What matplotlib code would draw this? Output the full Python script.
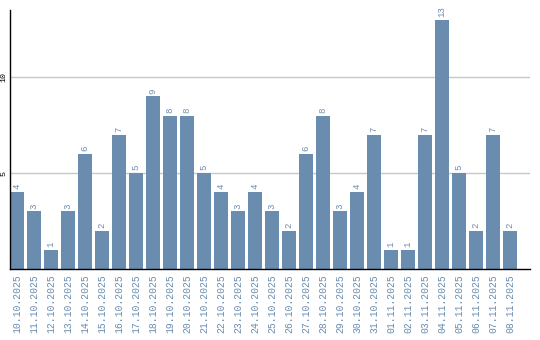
import matplotlib
matplotlib.use("Agg")
import matplotlib.pyplot as plt

# Daten
dates = ["10.10.2025", "11.10.2025", "12.10.2025", "13.10.2025", "14.10.2025",
         "15.10.2025", "16.10.2025", "17.10.2025", "18.10.2025", "19.10.2025",
         "20.10.2025", "21.10.2025", "22.10.2025", "23.10.2025", "24.10.2025",
         "25.10.2025", "26.10.2025", "27.10.2025", "28.10.2025", "29.10.2025",
         "30.10.2025", "31.10.2025", "01.11.2025", "02.11.2025", "03.11.2025",
         "04.11.2025", "05.11.2025", "06.11.2025", "07.11.2025", "08.11.2025"]
counts = [4, 3, 1, 3, 6, 2, 7, 5, 9, 8, 8, 5, 4, 3, 4, 3, 2, 6, 8, 3,
          4, 7, 1, 1, 7, 13, 5, 2, 7, 2]
y_ticks = [5, 10]

bar_color = "#6a8caf"
text_color = "#6a8caf"

plt.rcParams['font.family'] = ['Liberation Mono', 'DejaVu Sans Mono']

fig = plt.figure(figsize=(5.4, 3.4), dpi=100)
ax = fig.add_axes([10 / 540, 71 / 340, 520 / 540, 259 / 340])

x = list(range(len(counts)))
ax.bar(x, counts, width=0.82, color=bar_color, zorder=2)

# Werte über den Balken
for xi, v in zip(x, counts):
    ax.annotate(str(v), (xi, v), xytext=(0, 2), textcoords="offset points",
                rotation=90, ha="center", va="bottom", fontsize=6.5, color=text_color)

ax.set_xlim(-0.41, 30.18)
ax.set_ylim(0, 13.5)

ax.set_xticks(x)
ax.set_xticklabels(dates, rotation=90, fontsize=7, color=text_color)
ax.set_yticks(y_ticks)
ax.set_yticklabels([str(t) for t in y_ticks], rotation=90, fontsize=6, va="center")
ax.tick_params(axis="both", length=0)
ax.tick_params(axis="x", pad=4)
ax.tick_params(axis="y", pad=2)

ax.grid(axis="y", color="#c8c8c8", linewidth=1, zorder=0)
for s in ["top", "right"]:
    ax.spines[s].set_visible(False)
ax.spines["left"].set_linewidth(1.0)
ax.spines["bottom"].set_linewidth(1.0)

fig.savefig("out.png", dpi=100)
